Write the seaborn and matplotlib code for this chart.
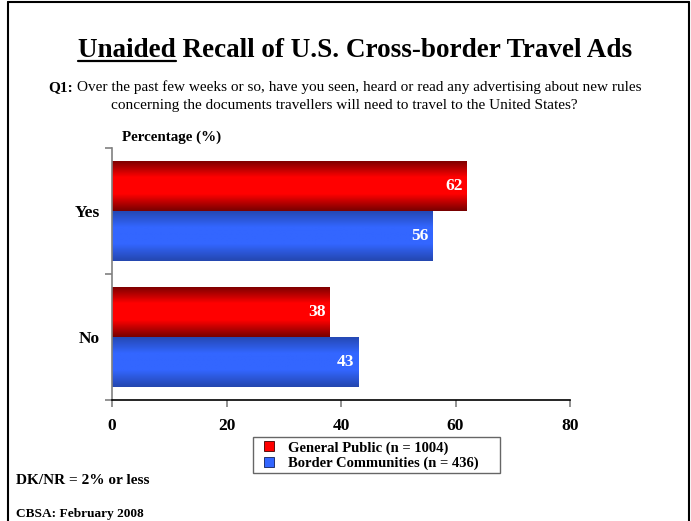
import numpy as np
import pandas as pd
import matplotlib
matplotlib.use("Agg")
import matplotlib.pyplot as plt
from matplotlib.colors import LinearSegmentedColormap
from matplotlib.lines import Line2D
import seaborn as sns

# Survey results (percent)
answers = ["Yes", "No"]
groups = ["General Public (n = 1004)", "Border Communities (n = 436)"]
general_public = [62, 38]
border_communities = [56, 43]
x_ticks = [0, 20, 40, 60, 80]

df = pd.DataFrame({
    "answer": answers * 2,
    "group": [groups[0]] * 2 + [groups[1]] * 2,
    "pct": general_public + border_communities,
})

sns.set_theme(style="white")
plt.rcParams["font.family"] = ["Liberation Serif", "DejaVu Serif"]
plt.rcParams["text.color"] = "black"
plt.rcParams["xtick.color"] = "black"
plt.rcParams["ytick.color"] = "black"
plt.rcParams["axes.labelcolor"] = "black"

W, H = 691, 521
fig = plt.figure(figsize=(W / 100, H / 100), dpi=100)
fig.patch.set_facecolor("white")

def fx(px):
    return px / W

def fy(py):
    return 1 - py / H

ax = fig.add_axes([fx(112), fy(400), fx(570) - fx(112), fy(148) - fy(400)])

red, blue = "#FF0000", "#3366FF"
sns.barplot(data=df, y="answer", x="pct", hue="group", orient="h",
            palette=[red, blue], width=0.8, ax=ax, legend=False,
            saturation=1, linewidth=0)

ax.set_xlim(0, 80)
ax.set_ylim(1.5, -0.5)

# Gradient fill for each bar: dark at the edges, bright in the middle
red_cmap = LinearSegmentedColormap.from_list("r", ["#780000", "#FF0000", "#FF0000", "#780000"])
blue_cmap = LinearSegmentedColormap.from_list("b", ["#2447B0", "#3366FF", "#3366FF", "#2447B0"])
grad = np.linspace(0, 1, 64).reshape(-1, 1)
for i, p in enumerate(ax.patches):
    x0, y0 = p.get_x(), p.get_y()
    w, h = p.get_width(), p.get_height()
    cmap = red_cmap if i < len(answers) else blue_cmap
    im = ax.imshow(grad, cmap=cmap, aspect="auto", extent=[x0, x0 + w, y0 + h, y0],
                   interpolation="bilinear", zorder=p.get_zorder() + 0.1)
    im.set_clip_path(p)

ax.set_xlim(0, 80)
ax.set_ylim(1.5, -0.5)

# Value labels right-aligned just inside the bar ends
for cont in ax.containers:
    for p, v in zip(cont.patches, cont.datavalues):
        ax.annotate(f"{v:g}", (p.get_x() + p.get_width(), p.get_y() + p.get_height() / 2),
                    xytext=(-3, 0), textcoords="offset points", ha="right", va="center",
                    color="white", fontweight="bold", fontsize=12.5, zorder=5)

# Axes styling
for s in ["top", "right"]:
    ax.spines[s].set_visible(False)
ax.spines["left"].set_color("#808080")
ax.spines["left"].set_linewidth(1.2)
ax.spines["bottom"].set_color("black")
ax.spines["bottom"].set_linewidth(1.2)
ax.set_xticks(x_ticks)
ax.set_xticklabels([str(t) for t in x_ticks], fontweight="bold", fontsize=12.5)
ax.tick_params(axis="x", length=5, width=1.2, color="#808080", pad=8, bottom=True)
ax.set_yticks([-0.5, 0.5, 1.5], minor=False)
ax.set_yticklabels([])
ax.set_yticks([0, 1], minor=True)
ax.set_yticklabels(answers, minor=True, fontweight="bold", fontsize=12.5)
ax.tick_params(axis="y", which="major", length=5, width=1.2, color="#808080", left=True)
ax.tick_params(axis="y", which="minor", length=0, pad=8.5)
ax.set_xlabel("")
ax.set_ylabel("")
ax.grid(False)

fig.text(fx(122), fy(137), "Percentage (%)", fontweight="bold", fontsize=10.8,
         ha="left", va="center")

# Title with underlined first word
title_y = fy(57)
t = fig.text(0.5 * (fx(78) + fx(633)), title_y, "Unaided Recall of U.S. Cross-border Travel Ads",
             fontweight="bold", fontsize=19.5, ha="center", va="baseline")
fig.canvas.draw()
r = fig.canvas.get_renderer()
bb = t.get_window_extent(r)
probe = fig.text(0, 0, "Unaided", fontweight="bold", fontsize=19.5)
pw = probe.get_window_extent(r).width
probe.remove()
x_left = bb.x0 / W
fig.add_artist(Line2D([x_left, x_left + pw / W], [title_y - 4 / H, title_y - 4 / H],
                      color="black", lw=1.6, transform=fig.transFigure))

# Question text
q = fig.text(fx(48), fy(91), "Q1:", fontweight="bold", fontsize=11, ha="left", va="baseline")
fig.canvas.draw()
qb = q.get_window_extent(r)
fig.text(qb.x1 / W + 4 / W, fy(91),
         "Over the past few weeks or so, have you seen, heard or read any advertising about new rules",
         fontsize=11, ha="left", va="baseline")
fig.text(fx(111), fy(109.5),
         "concerning the documents travellers will need to travel to the United States?",
         fontsize=11, ha="left", va="baseline")

# Legend with small square markers
handles = [Line2D([], [], ls="none", marker="s", markersize=6.5, markerfacecolor=red,
                  markeredgecolor="#400000", markeredgewidth=0.6),
           Line2D([], [], ls="none", marker="s", markersize=6.5, markerfacecolor=blue,
                  markeredgecolor="#10205a", markeredgewidth=0.6)]
leg = fig.legend(handles, groups, loc="upper left",
                 bbox_to_anchor=(fx(253), fy(438), fx(500) - fx(253), 0.001),
                 mode="expand", frameon=True, fancybox=False, borderpad=0.25,
                 borderaxespad=0.0,
                 handlelength=1.7, handletextpad=0.45,
                 labelspacing=0.12, prop={"weight": "bold", "size": 10.5})
leg.get_frame().set_edgecolor("#404040")
leg.get_frame().set_linewidth(1.0)

fig.text(fx(16), fy(480), "DK/NR = 2% or less", fontweight="bold", fontsize=11,
         ha="left", va="center")
fig.text(fx(16), fy(514), "CBSA: February 2008", fontweight="bold", fontsize=9.6,
         ha="left", va="center")

# Slide frame on the left, top and right
frame_kw = dict(color="black", lw=1.5, transform=fig.transFigure)
fig.add_artist(Line2D([fx(8), fx(8)], [0, fy(2)], **frame_kw))
fig.add_artist(Line2D([fx(8), fx(689)], [fy(2), fy(2)], **frame_kw))
fig.add_artist(Line2D([fx(689), fx(689)], [0, fy(2)], **frame_kw))

fig.savefig("out.png", dpi=100, facecolor="white")
